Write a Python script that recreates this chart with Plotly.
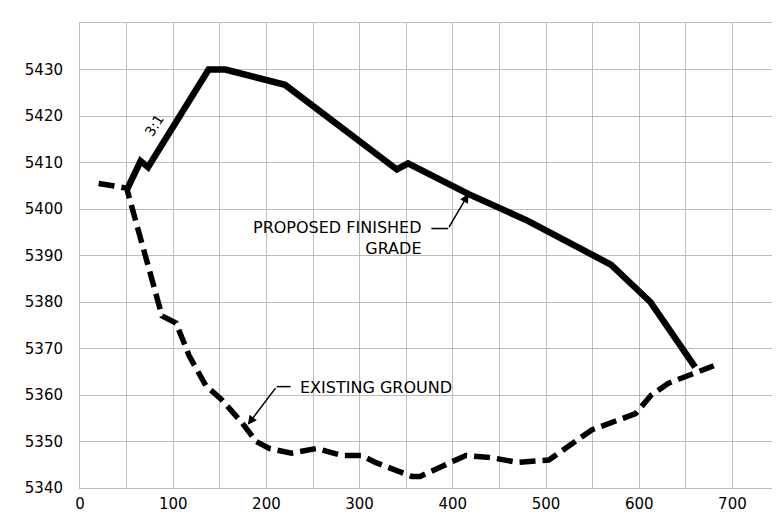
import plotly.graph_objects as go

# Proposed finished grade (station, elevation)
proposed_x = [50, 65, 73, 138, 156, 220, 340, 352, 417, 480, 570, 612, 660]
proposed_y = [5404, 5410.3, 5409, 5430, 5430, 5426.7, 5408.5, 5409.8, 5403.2, 5397.5, 5388, 5380, 5366]

# Existing ground (station, elevation)
existing_x = [20, 50, 88, 103, 117, 135, 152, 174, 189, 203, 227, 254, 281, 302, 317,
              356, 365, 414, 442, 470, 503, 527, 549, 596, 613, 631, 667, 680]
existing_y = [5405.5, 5404.5, 5377, 5375.5, 5368.5, 5362, 5359, 5354, 5350, 5348.5, 5347.5,
              5348.5, 5347, 5347, 5345.5, 5342.5, 5342.5, 5347, 5346.5, 5345.5, 5346,
              5349.5, 5352.5, 5356, 5360, 5362.5, 5365.5, 5366.3]

x_ticks = [0, 100, 200, 300, 400, 500, 600, 700]
y_ticks = [5340, 5350, 5360, 5370, 5380, 5390, 5400, 5410, 5420, 5430]

# Leader lines (data coordinates)
pfg_leader_x = [377, 395]
pfg_leader_y = [5395.8, 5395.8]
pfg_tip = (417, 5403.3)
eg_leader_x = [226, 211]
eg_leader_y = [5361.8, 5361.8]
eg_tip = (180, 5353.6)

GRID = "#bdbdbd"
FONT = "DejaVu Sans"

fig = go.Figure()

fig.add_trace(go.Scatter(
    x=existing_x, y=existing_y, mode="lines",
    line=dict(color="black", width=5.5, dash="16px,7px"),
    hoverinfo="skip", showlegend=False))

fig.add_trace(go.Scatter(
    x=proposed_x, y=proposed_y, mode="lines",
    line=dict(color="black", width=6.5),
    hoverinfo="skip", showlegend=False))

# leader polylines
fig.add_trace(go.Scatter(x=pfg_leader_x, y=pfg_leader_y, mode="lines",
                         line=dict(color="black", width=1.5), hoverinfo="skip", showlegend=False))
fig.add_trace(go.Scatter(x=eg_leader_x, y=eg_leader_y, mode="lines",
                         line=dict(color="black", width=1.5), hoverinfo="skip", showlegend=False))

fig.add_annotation(x=pfg_tip[0], y=pfg_tip[1], ax=pfg_leader_x[1], ay=pfg_leader_y[1],
                   xref="x", yref="y", axref="x", ayref="y", text="",
                   showarrow=True, arrowhead=2, arrowsize=1.2, arrowwidth=1.5, arrowcolor="black")
fig.add_annotation(x=eg_tip[0], y=eg_tip[1], ax=eg_leader_x[1], ay=eg_leader_y[1],
                   xref="x", yref="y", axref="x", ayref="y", text="",
                   showarrow=True, arrowhead=2, arrowsize=1.2, arrowwidth=1.5, arrowcolor="black")

fig.add_annotation(x=369, y=5393.7, xref="x", yref="y", text="PROPOSED FINISHED<br>GRADE",
                   showarrow=False, xanchor="right", yanchor="middle", align="right",
                   font=dict(family=FONT, size=16, color="black"))
fig.add_annotation(x=234, y=5361.6, xref="x", yref="y", text="EXISTING GROUND",
                   showarrow=False, xanchor="left", yanchor="middle",
                   font=dict(family=FONT, size=16, color="black"))
fig.add_annotation(x=80, y=5418, xref="x", yref="y", text="3:1",
                   showarrow=False, textangle=-58,
                   font=dict(family=FONT, size=14, color="black"))

fig.update_layout(
    width=780, height=515,
    margin=dict(l=72, r=9, t=15, b=35),
    paper_bgcolor="white", plot_bgcolor="white",
    font=dict(family=FONT, size=15, color="black"),
    showlegend=False,
)
fig.update_xaxes(range=[0, 750], tickvals=x_ticks, showgrid=True, gridcolor=GRID, gridwidth=1,
                 minor=dict(dtick=50, showgrid=True, gridcolor=GRID, gridwidth=1),
                 showline=True, linecolor=GRID, mirror=True, zeroline=False,
                 ticks="", ticklabelstandoff=2, tickfont=dict(family=FONT, size=15, color="black"))
fig.update_yaxes(range=[5340, 5440], tickvals=y_ticks, showgrid=True, gridcolor=GRID, gridwidth=1,
                 showline=True, linecolor=GRID, mirror=True, zeroline=False,
                 ticks="", ticklabelstandoff=13, tickfont=dict(family=FONT, size=15, color="black"))

fig.write_html("out.html")
